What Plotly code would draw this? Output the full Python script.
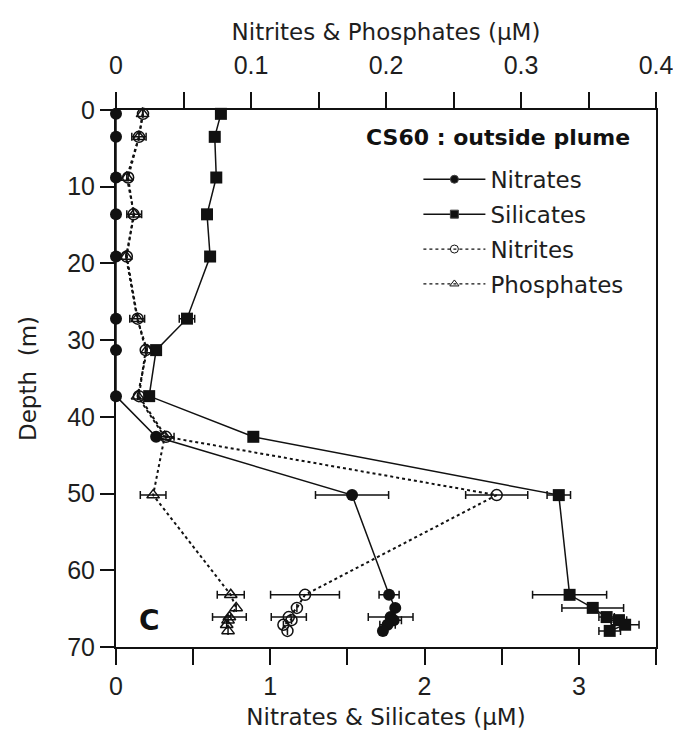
import plotly.graph_objects as go

depth = [0.5, 3.5, 8.8, 13.6, 19.1, 27.2, 31.3, 37.3, 42.6, 50.2, 63.2, 64.9, 66.1, 66.5, 67.1, 67.9]

nitrates = [0, 0, 0, 0, 0, 0, 0, 0, 0.26, 1.53, 1.77, 1.81, 1.78, 1.80, 1.76, 1.73]
nitrates_err = [0, 0, 0, 0, 0, 0, 0, 0, 0, 0.237, 0.065, 0, 0.145, 0.05, 0.05, 0]

silicates = [0.68, 0.64, 0.65, 0.59, 0.61, 0.46, 0.26, 0.215, 0.89, 2.87, 2.94, 3.09, 3.18, 3.26, 3.30, 3.20]
silicates_err = [0, 0.03, 0, 0, 0, 0.05, 0, 0, 0, 0.076, 0.24, 0.20, 0.05, 0.05, 0.09, 0.07]

nitrites = [0.020, 0.017, 0.009, 0.013, 0.008, 0.016, 0.022, 0.017, 0.037, 0.282, 0.140, 0.134, 0.128, 0.130, 0.124, 0.127]
nitrites_err = [0, 0, 0, 0, 0, 0, 0, 0, 0, 0.023, 0.0255, 0, 0.013, 0, 0, 0]

phosphates = [0.0197, 0.017, 0.008, 0.0135, 0.0074, 0.0157, 0.023, 0.016, 0.036, 0.0275, 0.085, 0.089, 0.084, 0.083, 0.082, 0.083]
phosphates_err = [0, 0.0053, 0, 0.0055, 0, 0.0055, 0, 0, 0.007, 0.0095, 0.010, 0, 0.0125, 0, 0, 0]

bottom_tickvals = [0, 0.5, 1, 1.5, 2, 2.5, 3, 3.5]
bottom_ticktext = ["0", "", "1", "", "2", "", "3", ""]
top_tickvals = [0, 0.05, 0.1, 0.15, 0.2, 0.25, 0.3, 0.35, 0.4]
top_ticktext = ["0", "", "0.1", "", "0.2", "", "0.3", "", "0.4"]
depth_ticks = [0, 10, 20, 30, 40, 50, 60, 70]

TICKFONT = "Liberation Sans, Arial, sans-serif"
TEXTFONT = "DejaVu Sans, sans-serif"
INK = "#111111"
GREY = "#1e1e1e"

fig = go.Figure()

def err(vals):
    return dict(type="data", array=vals, visible=True, color=INK, thickness=1.5, width=4)

fig.add_trace(go.Scatter(x=silicates, y=depth, mode="lines+markers", xaxis="x", yaxis="y",
                         line=dict(color=INK, width=1.5),
                         marker=dict(symbol="square", size=12, color=INK),
                         error_x=err(silicates_err), showlegend=False, cliponaxis=False))
fig.add_trace(go.Scatter(x=nitrates, y=depth, mode="lines+markers", xaxis="x", yaxis="y",
                         line=dict(color=INK, width=1.5),
                         marker=dict(symbol="circle", size=12, color=INK),
                         error_x=err(nitrates_err), showlegend=False, cliponaxis=False))
fig.add_trace(go.Scatter(x=nitrites, y=depth, mode="lines+markers", xaxis="x2", yaxis="y",
                         line=dict(color=INK, width=2, dash="dot"),
                         marker=dict(symbol="circle-open", size=11, color=INK, line=dict(width=1.5)),
                         error_x=err(nitrites_err), showlegend=False, cliponaxis=False))
fig.add_trace(go.Scatter(x=phosphates, y=depth, mode="lines+markers", xaxis="x2", yaxis="y",
                         line=dict(color=INK, width=2, dash="dot"),
                         marker=dict(symbol="triangle-up-open", size=11, color=INK, line=dict(width=1.5)),
                         error_x=err(phosphates_err), showlegend=False, cliponaxis=False))

# legend entries
leg = [("Nitrates", "circle", "solid", 1.5),
       ("Silicates", "square", "solid", 1.5),
       ("Nitrites", "circle-open", "dot", 1.2),
       ("Phosphates", "triangle-up-open", "dot", 1.2)]
for name, sym, dash, lw in leg:
    fig.add_trace(go.Scatter(x=[None], y=[None], mode="lines+markers", name=name,
                             legendgroup=name, xaxis="x", yaxis="y",
                             line=dict(color=INK, width=lw, dash=dash),
                             marker=dict(symbol=sym, size=8, color=INK, line=dict(width=1))))

axis_common = dict(showline=True, linecolor=INK, linewidth=2, ticks="outside",
                   tickcolor=INK, tickwidth=1.5, showgrid=False, zeroline=False,
                   ticklabeloverflow="allow", automargin=False,
                   tickfont=dict(family=TICKFONT, size=25, color=GREY))

fig.update_layout(
    width=673, height=737,
    margin=dict(l=116, r=17, t=110, b=90, autoexpand=False),
    paper_bgcolor="white", plot_bgcolor="white",
    font=dict(family=TEXTFONT, size=23, color=INK),
    xaxis=dict(range=[0, 3.5], tickvals=bottom_tickvals, ticktext=bottom_ticktext, ticklen=16,
               title=dict(text="Nitrates & Silicates (µM)", font=dict(family=TEXTFONT, size=23, color=GREY), standoff=10),
               **axis_common),
    xaxis2=dict(range=[0, 0.4], overlaying="x", side="top", anchor="y",
                tickvals=top_tickvals, ticktext=top_ticktext, ticklen=16, ticklabelstandoff=8,
                title=dict(text="Nitrites & Phosphates (µM)", font=dict(family=TEXTFONT, size=23, color=GREY), standoff=4),
                **axis_common),
    yaxis=dict(range=[70, 0], tickvals=depth_ticks, mirror=True, ticklen=14,
               title=dict(text="Depth  (m)", font=dict(family=TEXTFONT, size=23, color=GREY), standoff=24),
               **axis_common),
    legend=dict(x=0.56, y=0.911, xanchor="left", yanchor="top", bgcolor="rgba(0,0,0,0)",
                font=dict(family=TEXTFONT, size=23, color=GREY), tracegroupgap=2,
                itemwidth=62),
    annotations=[
        dict(text="<b>CS60 : outside plume</b>", xref="paper", yref="paper", x=0.956, y=0.948,
             xanchor="right", yanchor="middle", showarrow=False,
             font=dict(family=TEXTFONT, size=22, color=INK)),
        dict(text="<b>C</b>", xref="paper", yref="paper", x=0.062, y=0.05,
             xanchor="center", yanchor="middle", showarrow=False,
             font=dict(family=TEXTFONT, size=28, color=INK)),
    ],
)

fig.write_html("out.html")
